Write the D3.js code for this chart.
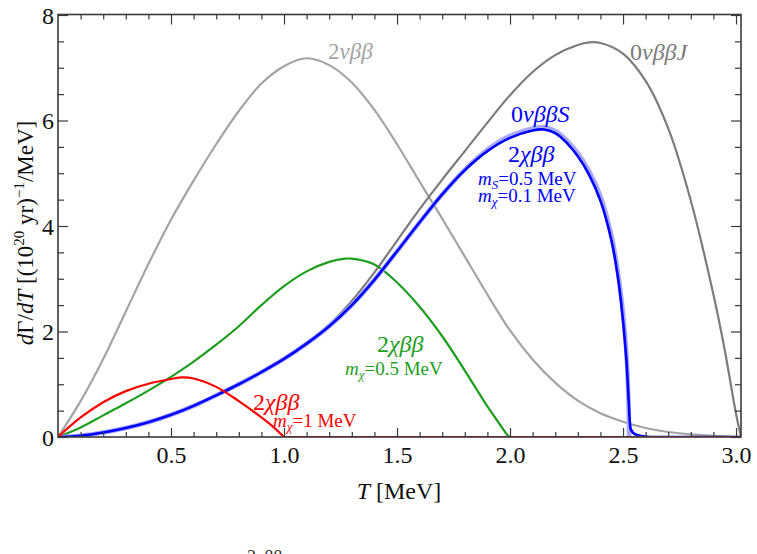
<!DOCTYPE html>
<html>
<head>
<meta charset="utf-8">
<script src="https://cdn.jsdelivr.net/npm/d3@7"></script>
<style>
html,body{margin:0;padding:0;background:#fff;}
svg{display:block;}
text{font-family:"Liberation Serif","DejaVu Serif",serif;}
</style>
</head>
<body>
<svg id="chart" width="757" height="554"></svg>
<script>
// ---- data (T in MeV, rate in (10^20 yr)^-1/MeV) ----
const twoNuT = [0,0.1,0.2,0.3,0.4,0.5,0.6,0.7,0.8,0.9,1.0,1.1,1.2,1.3,1.4,1.5,1.6,1.7,1.8,1.9,2.0,2.1,2.2,2.3,2.4,2.5,2.6,2.7,2.8,2.9,3.0,3.022];
const twoNuY = [0,0.68,1.48,2.38,3.28,4.12,4.86,5.55,6.18,6.70,7.03,7.18,7.05,6.72,6.20,5.55,4.84,4.14,3.42,2.70,2.02,1.47,1.03,0.69,0.45,0.29,0.17,0.095,0.05,0.02,0.004,0];

const zeroNuJT = [0,0.1,0.2,0.3,0.4,0.5,0.6,0.7,0.8,0.9,1.0,1.1,1.2,1.3,1.4,1.5,1.6,1.7,1.8,1.9,2.0,2.1,2.2,2.3,2.35,2.4,2.5,2.6,2.7,2.8,2.9,2.95,3.0,3.022];
const zeroNuJY = [0,0.025,0.085,0.17,0.28,0.42,0.59,0.79,1.0,1.23,1.48,1.77,2.13,2.58,3.12,3.72,4.32,4.88,5.42,5.96,6.48,6.92,7.24,7.43,7.48,7.47,7.27,6.75,5.85,4.48,2.7,1.65,0.44,0];

const zeroNuST = [0,0.1,0.2,0.3,0.4,0.5,0.6,0.7,0.8,0.9,1.0,1.1,1.2,1.3,1.4,1.5,1.6,1.7,1.8,1.9,2.0,2.1,2.15,2.2,2.25,2.3,2.35,2.4,2.45,2.48,2.5,2.515,2.523,2.527];
const zeroNuSY = [0,0.025,0.085,0.17,0.28,0.42,0.59,0.79,1.0,1.23,1.48,1.77,2.1,2.5,2.98,3.52,4.07,4.6,5.07,5.45,5.71,5.85,5.87,5.80,5.63,5.38,5.04,4.57,3.8,3.05,2.35,1.6,0.8,0];

const chiS_T = [0,0.1,0.2,0.3,0.4,0.5,0.6,0.7,0.8,0.9,1.0,1.1,1.2,1.3,1.4,1.5,1.6,1.7,1.8,1.9,2.0,2.1,2.15,2.2,2.25,2.3,2.35,2.4,2.45,2.48,2.5,2.515,2.525,2.53,2.535,2.55,2.58,2.62,2.66,3.022];
const chiS_Y = [0,0.025,0.085,0.17,0.28,0.42,0.59,0.79,1.0,1.23,1.48,1.77,2.1,2.5,2.98,3.52,4.07,4.6,5.06,5.42,5.67,5.81,5.83,5.76,5.58,5.32,4.97,4.48,3.7,2.95,2.2,1.45,0.7,0.3,0.14,0.06,0.02,0,0,0];

const chi05T = [0,0.1,0.2,0.3,0.4,0.5,0.6,0.7,0.8,0.9,1.0,1.1,1.2,1.27,1.3,1.4,1.5,1.6,1.7,1.8,1.9,1.95,1.99,2.0,2.03,3.022];
const chi05Y = [0,0.18,0.41,0.64,0.88,1.14,1.43,1.75,2.1,2.5,2.86,3.14,3.32,3.38,3.38,3.27,2.93,2.47,1.91,1.26,0.58,0.27,0.03,0,0,0];

const chi1T = [0,0.1,0.2,0.3,0.4,0.5,0.55,0.6,0.7,0.8,0.9,0.95,0.99,1.0,1.03,3.022];
const chi1Y = [0,0.37,0.66,0.87,1.01,1.10,1.13,1.11,0.95,0.68,0.37,0.2,0.04,0,0,0];

const xTicks = [0.5,1.0,1.5,2.0,2.5,3.0];
const xTickLabels = ["0.5","1.0","1.5","2.0","2.5","3.0"];
const yTicks = [0,2,4,6,8];
const yTickLabels = ["0","2","4","6","8"];

// ---- layout ----
const svg = d3.select("#chart");
const L = 58, R = 741, T = 14.5, B = 437;
const x = d3.scaleLinear().domain([0, 3.022]).range([L, R]);
const y = d3.scaleLinear().domain([0, 8]).range([B, 15]);

const frameColor = "#3a3a3a";

function series(ts, ys){ return ts.map((t,i)=>[t, ys[i]]); }
const line = d3.line().x(d=>x(d[0])).y(d=>y(d[1])).curve(d3.curveCatmullRom.alpha(0.5));

const g = svg.append("g");
g.append("defs").append("clipPath").attr("id","clip")
  .append("rect").attr("x",L).attr("y",T).attr("width",R-L).attr("height",B-T);
const plot = g.append("g").attr("clip-path","url(#clip)");

plot.append("path").datum(series(twoNuT,twoNuY)).attr("d",line)
  .attr("fill","none").attr("stroke","#a4a4a4").attr("stroke-width",2.2);
plot.append("path").datum(series(zeroNuJT,zeroNuJY)).attr("d",line)
  .attr("fill","none").attr("stroke","#7c7c7c").attr("stroke-width",2.2);
plot.append("path").datum(series(chi05T,chi05Y)).attr("d",line)
  .attr("fill","none").attr("stroke","#1e9e1e").attr("stroke-width",2.2);
plot.append("path").datum(series(zeroNuST,zeroNuSY)).attr("d",line)
  .attr("fill","none").attr("stroke","#a8a8ff").attr("stroke-width",4.5);
plot.append("path").datum(series(chiS_T,chiS_Y)).attr("d",line)
  .attr("fill","none").attr("stroke","#0000ff").attr("stroke-width",2.6);
plot.append("path").datum(series(chi1T,chi1Y)).attr("d",line)
  .attr("fill","none").attr("stroke","#ff0000").attr("stroke-width",2.2);

// ---- axes (ticks inward on all four sides) ----
const xMinor = d3.range(1,31).map(i=>i/10).filter(v=>!xTicks.some(t=>Math.abs(t-v)<1e-9));
const yMinor = d3.range(1,16).map(i=>i/2).filter(v=>!yTicks.includes(v));

const bottomAxis = d3.axisBottom(x).tickValues(xTicks).tickSize(-9).tickFormat((d,i)=>xTickLabels[i]).tickPadding(9);
const bottomMinor = d3.axisBottom(x).tickValues(xMinor).tickSize(-5).tickFormat("");
const topAxis = d3.axisTop(x).tickValues(xTicks).tickSize(-10).tickFormat("");
const topMinor = d3.axisTop(x).tickValues(xMinor).tickSize(-5).tickFormat("");
const leftAxis = d3.axisLeft(y).tickValues(yTicks).tickSize(-10).tickFormat((d,i)=>yTickLabels[i]).tickPadding(4);
const leftMinor = d3.axisLeft(y).tickValues(yMinor).tickSize(-6).tickFormat("");
const rightAxis = d3.axisRight(y).tickValues(yTicks).tickSize(-10).tickFormat("");
const rightMinor = d3.axisRight(y).tickValues(yMinor).tickSize(-6).tickFormat("");

function styleAxis(sel){
  sel.select(".domain").remove();
  sel.selectAll("line").attr("stroke",frameColor).attr("stroke-width",1.2);
  sel.selectAll("text").attr("fill","#111").style("font-size","24px").style("font-family","'Liberation Serif',serif");
}
const axG = svg.append("g");
axG.append("g").attr("transform",`translate(0,${B})`).call(bottomAxis).call(styleAxis);
axG.append("g").attr("transform",`translate(0,${B})`).call(bottomMinor).call(styleAxis);
axG.append("g").attr("transform",`translate(0,${T})`).call(topAxis).call(styleAxis);
axG.append("g").attr("transform",`translate(0,${T})`).call(topMinor).call(styleAxis);
axG.append("g").attr("class","yl").attr("transform",`translate(${L},0)`).call(leftAxis).call(styleAxis);
axG.append("g").attr("transform",`translate(${L},0)`).call(leftMinor).call(styleAxis);
axG.append("g").attr("transform",`translate(${R},0)`).call(rightAxis).call(styleAxis);
axG.append("g").attr("transform",`translate(${R},0)`).call(rightMinor).call(styleAxis);
axG.select(".yl").selectAll("text").attr("dy","0.34em");
axG.append("rect").attr("x",L).attr("y",T).attr("width",R-L).attr("height",B-T)
  .attr("fill","none").attr("stroke",frameColor).attr("stroke-width",1.6);

// ---- axis titles ----
svg.append("text").attr("x",399).attr("y",499).attr("text-anchor","middle")
  .style("font-size","24px").attr("fill","#111")
  .call(t=>{ t.append("tspan").attr("font-style","italic").text("T"); t.append("tspan").text(" [MeV]"); });

const yl = svg.append("text").attr("transform","translate(33,233) rotate(-90)").attr("text-anchor","middle")
  .style("font-size","23px").attr("fill","#111");
yl.append("tspan").attr("font-style","italic").text("d");
yl.append("tspan").text("Γ/");
yl.append("tspan").attr("font-style","italic").text("dT");
yl.append("tspan").text(" [(10");
yl.append("tspan").attr("dy","-9").style("font-size","15px").text("20");
yl.append("tspan").attr("dy","9").text(" yr)");
yl.append("tspan").attr("dy","-9").style("font-size","15px").text("−1");
yl.append("tspan").attr("dy","9").text("/MeV]");

// ---- curve labels ----
function greekLabel(xp, yp, color, lead, rest, size){
  const t = svg.append("text").attr("x",xp).attr("y",yp).attr("fill",color).style("font-size",size+"px");
  t.append("tspan").text(lead);
  t.append("tspan").attr("font-style","italic").text(rest);
  return t;
}
function massLabel(xp, yp, color, sub, val){
  const t = svg.append("text").attr("x",xp).attr("y",yp).attr("fill",color).style("font-size","19px");
  t.append("tspan").attr("font-style","italic").text("m");
  t.append("tspan").attr("font-style","italic").attr("dy","4").style("font-size","13px").text(sub);
  t.append("tspan").attr("dy","-4").text("=" + val);
  return t;
}
greekLabel(328, 59, "#a4a4a4", "2", "νββ", 23);
greekLabel(630, 60, "#7c7c7c", "0", "νββJ", 24);
greekLabel(511, 122, "#0000ff", "0", "νββS", 24);
greekLabel(508, 162, "#0000ff", "2", "χββ", 24);
massLabel(478, 185, "#0000ff", "S", "0.5 MeV");
massLabel(478, 202, "#0000ff", "χ", "0.1 MeV");
greekLabel(377, 352, "#1e9e1e", "2", "χββ", 24);
massLabel(345, 375, "#1e9e1e", "χ", "0.5 MeV");
greekLabel(253, 410, "#ff0000", "2", "χββ", 24);
massLabel(273, 427, "#ff0000", "χ", "1 MeV");

// cropped caption fragment at the very bottom
svg.append("text").attr("x",247).attr("y",563).attr("fill","#333").style("font-size","18px")
  .text("2νββ");
</script>
</body>
</html>
